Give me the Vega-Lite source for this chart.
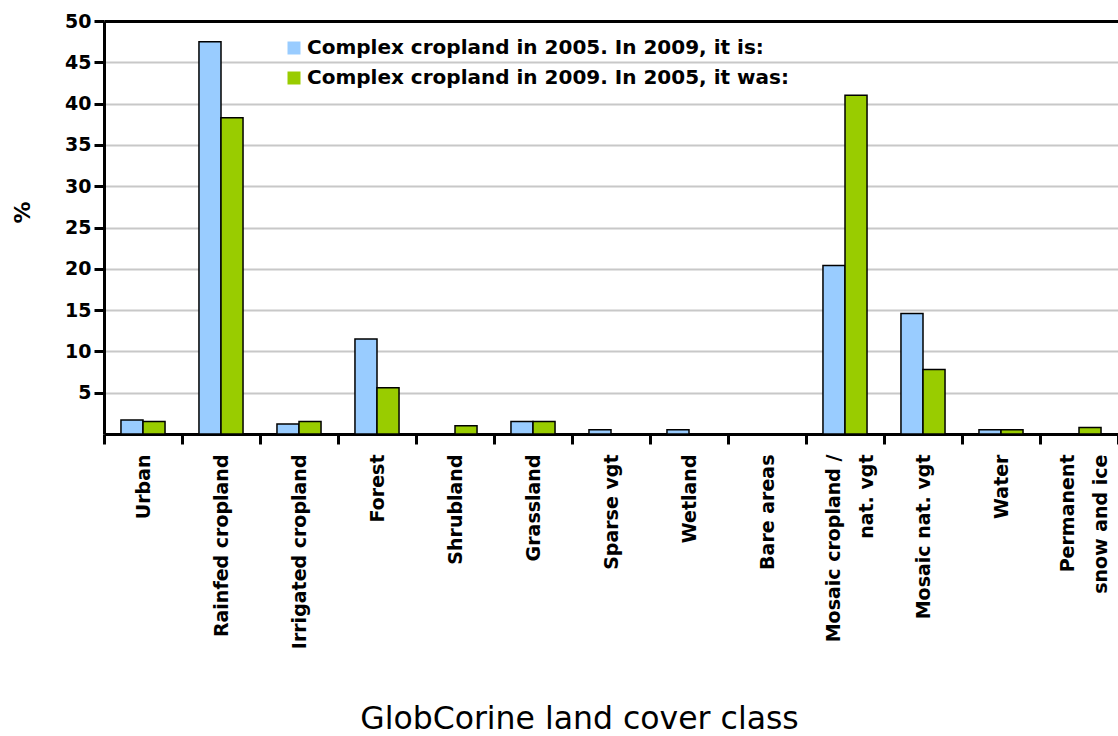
{
  "$schema": "https://vega.github.io/schema/vega-lite/v6.json",
  "width": 1014,
  "height": 413,
  "autosize": "none",
  "padding": {"left": 104, "top": 21, "right": 0, "bottom": 302},
  "background": "white",
  "config": {"view": {"stroke": null}},
  "data": {
    "values": [
      {"cls": "Urban", "series": "Complex cropland in 2005. In 2009, it is:", "value": 1.7},
      {"cls": "Urban", "series": "Complex cropland in 2009. In 2005, it was:", "value": 1.5},
      {"cls": "Rainfed cropland", "series": "Complex cropland in 2005. In 2009, it is:", "value": 47.5},
      {"cls": "Rainfed cropland", "series": "Complex cropland in 2009. In 2005, it was:", "value": 38.3},
      {"cls": "Irrigated cropland", "series": "Complex cropland in 2005. In 2009, it is:", "value": 1.2},
      {"cls": "Irrigated cropland", "series": "Complex cropland in 2009. In 2005, it was:", "value": 1.5},
      {"cls": "Forest", "series": "Complex cropland in 2005. In 2009, it is:", "value": 11.5},
      {"cls": "Forest", "series": "Complex cropland in 2009. In 2005, it was:", "value": 5.6},
      {"cls": "Shrubland", "series": "Complex cropland in 2005. In 2009, it is:", "value": 0},
      {"cls": "Shrubland", "series": "Complex cropland in 2009. In 2005, it was:", "value": 1.0},
      {"cls": "Grassland", "series": "Complex cropland in 2005. In 2009, it is:", "value": 1.5},
      {"cls": "Grassland", "series": "Complex cropland in 2009. In 2005, it was:", "value": 1.5},
      {"cls": "Sparse vgt", "series": "Complex cropland in 2005. In 2009, it is:", "value": 0.5},
      {"cls": "Sparse vgt", "series": "Complex cropland in 2009. In 2005, it was:", "value": 0},
      {"cls": "Wetland", "series": "Complex cropland in 2005. In 2009, it is:", "value": 0.5},
      {"cls": "Wetland", "series": "Complex cropland in 2009. In 2005, it was:", "value": 0},
      {"cls": "Bare areas", "series": "Complex cropland in 2005. In 2009, it is:", "value": 0},
      {"cls": "Bare areas", "series": "Complex cropland in 2009. In 2005, it was:", "value": 0},
      {"cls": "Mosaic cropland / nat. vgt", "series": "Complex cropland in 2005. In 2009, it is:", "value": 20.4},
      {"cls": "Mosaic cropland / nat. vgt", "series": "Complex cropland in 2009. In 2005, it was:", "value": 41.0},
      {"cls": "Mosaic nat. vgt", "series": "Complex cropland in 2005. In 2009, it is:", "value": 14.6},
      {"cls": "Mosaic nat. vgt", "series": "Complex cropland in 2009. In 2005, it was:", "value": 7.8},
      {"cls": "Water", "series": "Complex cropland in 2005. In 2009, it is:", "value": 0.5},
      {"cls": "Water", "series": "Complex cropland in 2009. In 2005, it was:", "value": 0.5},
      {"cls": "Permanent snow and ice", "series": "Complex cropland in 2005. In 2009, it is:", "value": 0},
      {"cls": "Permanent snow and ice", "series": "Complex cropland in 2009. In 2005, it was:", "value": 0.8}
    ]
  },
  "mark": {"type": "bar", "stroke": "black", "strokeWidth": 1.5},
  "encoding": {
    "x": {
      "field": "cls",
      "type": "nominal",
      "sort": null,
      "scale": {"paddingInner": 0, "paddingOuter": 0},
      "axis": {
        "title": "GlobCorine land cover class",
        "titleFont": "DejaVu Sans",
        "titleFontSize": 31.5,
        "titleFontWeight": "normal",
        "titleColor": "black",
        "titleX": 475,
        "titleY": 294,
        "titleBaseline": "alphabetic",
        "labelAngle": -90,
        "labelFont": "DejaVu Sans",
        "labelFontWeight": "bold",
        "labelFontSize": 19,
        "labelColor": "black",
        "labelPadding": 10,
        "labelLineHeight": 33,
        "labelOffset": {"condition": {"test": "datum.value == 'Mosaic cropland / nat. vgt' || datum.value == 'Permanent snow and ice'", "value": -12}, "value": 0},
        "labelExpr": "datum.value == 'Mosaic cropland / nat. vgt' ? ['Mosaic cropland /', 'nat. vgt'] : datum.value == 'Permanent snow and ice' ? ['Permanent', 'snow and ice'] : datum.value",
        "tickBand": "extent",
        "tickColor": "black",
        "tickWidth": 3,
        "tickSize": 10,
        "domainColor": "black",
        "domainWidth": 3,
        "labelOverlap": false,
        "labelLimit": 400
      }
    },
    "xOffset": {
      "field": "series",
      "type": "nominal",
      "scale": {"paddingInner": 0, "paddingOuter": 0.77}
    },
    "y": {
      "field": "value",
      "type": "quantitative",
      "scale": {"domain": [0, 50], "nice": false},
      "axis": {
        "title": "%",
        "titleFont": "DejaVu Sans",
        "titleFontSize": 22,
        "titleFontWeight": "bold",
        "titleColor": "black",
        "titleX": -82,
        "titleY": 191,
        "titleAngle": -90,
        "titleBaseline": "middle",
        "titleAlign": "center",
        "values": [5, 10, 15, 20, 25, 30, 35, 40, 45, 50],
        "labelFont": "DejaVu Sans",
        "labelFontWeight": "bold",
        "labelFontSize": 19,
        "labelColor": "black",
        "labelPadding": 3,
        "tickColor": "black",
        "tickWidth": 3,
        "tickSize": 10,
        "domainColor": "black",
        "domainWidth": 3,
        "grid": true,
        "gridColor": {"condition": {"test": "datum.value == 50", "value": "black"}, "value": "#c8c8c8"},
        "gridWidth": {"condition": {"test": "datum.value == 50", "value": 3}, "value": 2}
      }
    },
    "color": {
      "field": "series",
      "type": "nominal",
      "scale": {"range": ["#99ccff", "#99cc00"]},
      "legend": {
        "title": null,
        "orient": "none",
        "legendX": 180,
        "legendY": 17,
        "symbolType": "square",
        "symbolSize": 169,
        "symbolStrokeWidth": 0,
        "symbolOpacity": 1,
        "labelFont": "DejaVu Sans",
        "labelFontWeight": "bold",
        "labelFontSize": 20,
        "labelColor": "black",
        "labelOffset": 3,
        "rowPadding": 10,
        "padding": 0,
        "labelLimit": 600
      }
    }
  }
}
